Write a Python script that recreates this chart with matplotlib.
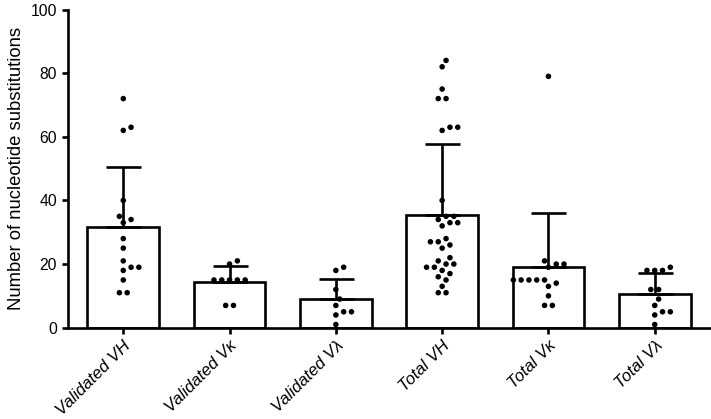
import numpy as np
import matplotlib
matplotlib.use("Agg")
import matplotlib.pyplot as plt

plt.rcParams['font.family'] = ['Liberation Sans', 'DejaVu Sans']

categories = ["Validated VH", "Validated Vκ", "Validated Vλ",
              "Total VH", "Total Vκ", "Total Vλ"]

validated_vh = [72, 63, 62, 40, 35, 34, 33, 28, 25, 21, 19, 19, 18, 15, 11, 11]
validated_vk = [21, 20, 15, 15, 15, 15, 15, 7, 7]
validated_vl = [19, 18, 12, 9, 7, 5, 5, 4, 1]
total_vh = [84, 82, 75, 72, 72, 63, 63, 62, 40, 35, 35, 34, 33, 33, 32, 28, 27,
            27, 26, 25, 22, 21, 20, 20, 19, 19, 18, 17, 16, 15, 13, 11, 11]
total_vk = [79, 21, 20, 20, 19, 15, 15, 15, 15, 15, 14, 13, 10, 7, 7]
total_vl = [19, 18, 18, 18, 12, 12, 9, 7, 5, 5, 4, 1]

groups = [validated_vh, validated_vk, validated_vl, total_vh, total_vk, total_vl]


def swarm_offsets(values, px_per_x, px_per_y, step_px=7.8, min_px=6.6):
    """Offsets en x (unidades de datos) para un beeswarm sencillo."""
    values = np.asarray(values, dtype=float)
    offsets = np.zeros(len(values))
    placed = []
    shifts = [0.0]
    for k in range(1, 20):
        shifts += [k * step_px / 2, -k * step_px / 2]
    for v in sorted(set(values)):
        idx = np.where(values == v)[0]
        n = len(idx)
        y = v * px_per_y
        base = (np.arange(n) - (n - 1) / 2) * step_px
        for s in shifts:
            xs = base + s
            ok = all((x - px) ** 2 + (y - py) ** 2 >= min_px ** 2
                     for x in xs for px, py in placed)
            if ok:
                break
        for i, x in zip(idx, xs):
            placed.append((x, y))
            offsets[i] = x / px_per_x
    return offsets


fig = plt.figure(figsize=(7.11, 4.19), dpi=100)
ax = fig.add_axes([68 / 711, 91.3 / 419, 642 / 711, 318.2 / 419])

x = np.arange(len(categories))
means = [np.mean(g) for g in groups]
sds = [np.std(g, ddof=1) for g in groups]

ax.bar(x, means, width=0.675, color='white', edgecolor='black', linewidth=1.9, zorder=2)
ax.errorbar(x, means, yerr=[np.zeros(len(x)), sds], fmt='none', ecolor='black',
            elinewidth=1.9, capsize=12.6, capthick=1.9, zorder=3)

ax.set_xlim(-0.52, 5.52)
ax.set_ylim(0, 100)

# escala en pixeles para colocar los puntos
fig.canvas.draw()
p0 = ax.transData.transform((0, 0))
p1 = ax.transData.transform((1, 1))
px_per_x = p1[0] - p0[0]
px_per_y = p1[1] - p0[1]

for i, g in enumerate(groups):
    off = swarm_offsets(g, px_per_x, px_per_y)
    ax.scatter(i + off, g, s=16, color='black', edgecolors='none', zorder=4, clip_on=False)

ax.set_yticks([0, 20, 40, 60, 80, 100])
ax.set_xticks(x)
ax.set_xticklabels(categories, rotation=45, ha='right', va='top',
                   rotation_mode='anchor', fontstyle='italic', fontsize=12.2)
ax.tick_params(axis='y', labelsize=11.3, width=1.9, length=4.5, direction='out')
ax.tick_params(axis='x', width=1.9, length=4.5, direction='out', pad=3)
ax.set_ylabel("Number of nucleotide substitutions", fontsize=13.3, labelpad=4)

for side in ['top', 'right']:
    ax.spines[side].set_visible(False)
for side in ['left', 'bottom']:
    ax.spines[side].set_linewidth(1.9)

plt.savefig("out.png", dpi=100)
plt.close()
